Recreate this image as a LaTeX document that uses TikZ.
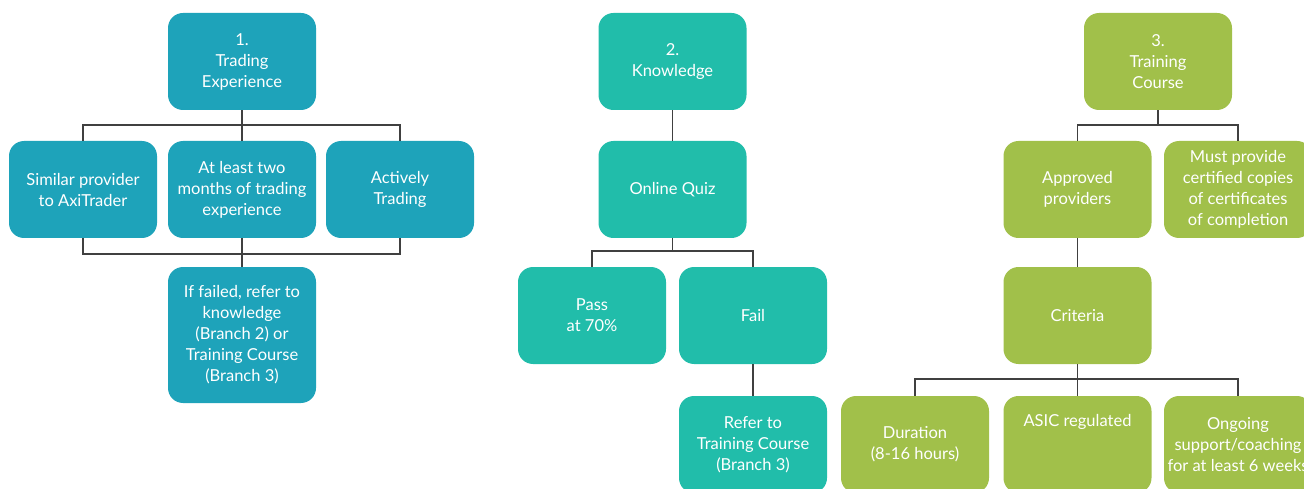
\documentclass[tikz,border=0pt]{standalone}
\usepackage{fontspec}
\setmainfont{Lato}
\usetikzlibrary{positioning}
\definecolor{expblue}{RGB}{30,163,186}
\definecolor{knowteal}{RGB}{33,189,170}
\definecolor{courselime}{RGB}{161,192,74}
\definecolor{linkgray}{RGB}{64,64,64}
\tikzset{
  box/.style={rectangle,rounded corners=15pt,minimum width=148pt,minimum height=97pt,
    align=center,text=white,font=\fontsize{16.5}{21}\selectfont,inner sep=2pt},
  box1/.style={box,fill=expblue},
  box2/.style={box,fill=knowteal},
  box3/.style={box,fill=courselime},
  link/.style={draw=linkgray,line width=1.6pt}
}

\begin{document}
\begin{tikzpicture}[x=1pt,y=-1pt]
      \useasboundingbox (0,0) rectangle (1304,489);
      \clip (0,0) rectangle (1304,489);

      % 1. trading experience
      \node[box1] (exp) at (242,61.5) {1.\\Trading\\Experience};
      \node[box1] (provider) at (83,189.5) {Similar provider\\to AxiTrader};
      \node[box1] (months) at (242,189.5) {At least two\\months of trading\\experience};
      \node[box1] (active) at (400,189.5) {Actively\\Trading};
      \node[box1,minimum height=136pt] (failed) at (242,335) {If failed, refer to\\knowledge\\(Branch 2) or\\Training Course\\(Branch 3)};

      \coordinate (j1) at (242,125);
      \coordinate (j2) at (242,254);
      \draw[link] (exp) -- (months);
      \draw[link] (provider.north) |- (j1) -| (active.north);
      \draw[link] (provider.south) |- (j2) -| (active.south);
      \draw[link] (months) -- (failed);

      % 2. knowledge
      \node[box2] (know) at (672.5,61.5) {2.\\Knowledge};
      \node[box2] (quiz) at (672.5,189.5) {Online Quiz};
      \node[box2] (pass) at (592,315.5) {Pass\\at 70\%};
      \node[box2] (fail) at (753,315.5) {Fail};
      \node[box2] (refer) at (753,444.5) {Refer to\\Training Course\\(Branch 3)};

      \coordinate (j3) at (672.5,251);
      \draw[link] (know) -- (quiz);
      \draw[link] (quiz) -- (j3);
      \draw[link] (pass.north) |- (j3) -| (fail.north);
      \draw[link] (fail) -- (refer);

      % 3. training course
      \node[box3] (course) at (1158,61.5) {3.\\Training\\Course};
      \node[box3] (approved) at (1077.5,189.5) {Approved\\providers};
      \node[box3] (certs) at (1238,189.5) {Must provide\\certified copies\\of certificates\\of completion};
      \node[box3] (criteria) at (1077.5,315.5) {Criteria};
      \node[box3] (duration) at (915,444.5) {Duration\\(8-16 hours)};
      \node[box3] (asic) at (1077.5,444.5) {ASIC regulated\\\strut\\\strut};
      \node[box3] (ongoing) at (1238,444.5) {Ongoing\\support/coaching\\for at least 6 weeks};

      \coordinate (j4) at (1158,125);
      \coordinate (j5) at (1077.5,379);
      \draw[link] (course) -- (j4);
      \draw[link] (approved.north) |- (j4) -| (certs.north);
      \draw[link] (approved) -- (criteria);
      \draw[link] (criteria) -- (asic);
      \draw[link] (duration.north) |- (j5) -| (ongoing.north);
    \end{tikzpicture}
\end{document}
